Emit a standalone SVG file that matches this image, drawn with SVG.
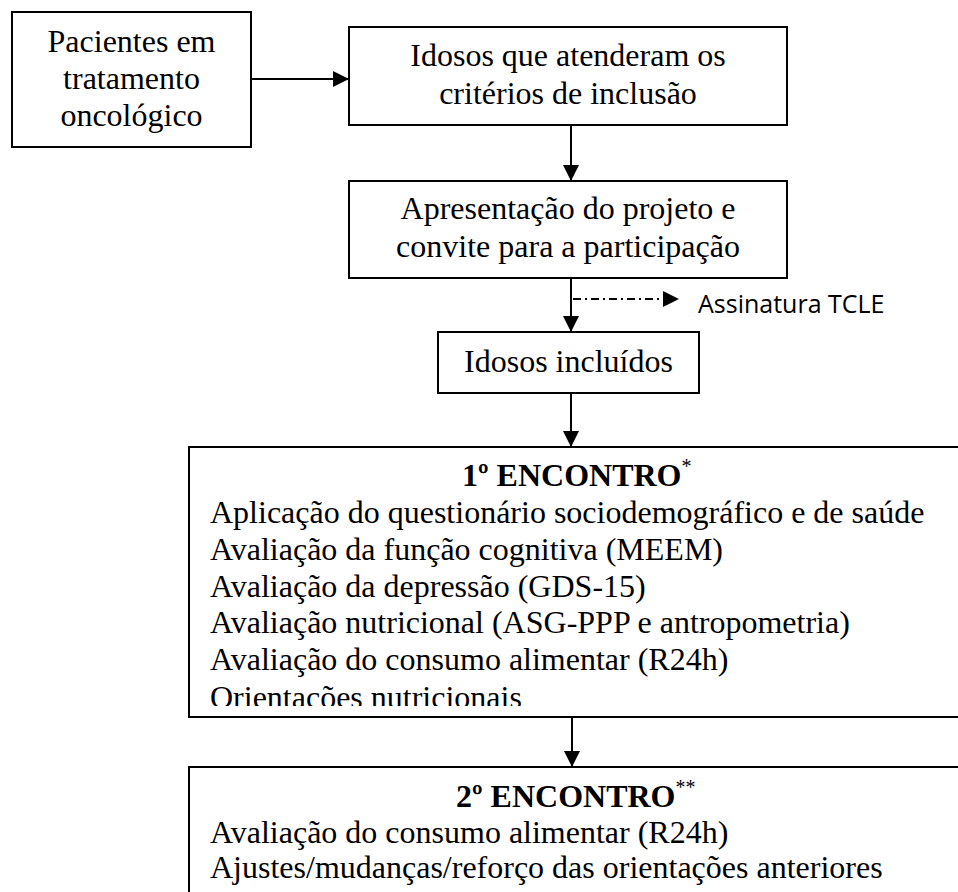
<svg xmlns="http://www.w3.org/2000/svg" width="958" height="892" viewBox="0 0 958 892">
<style>
.box{fill:#fff;stroke:#000;stroke-width:2}
.t{font-family:"Liberation Serif","Times New Roman",serif;font-size:32px;fill:#000}
.c{text-anchor:middle}
.b{font-weight:bold}
.sup{font-size:20px;font-weight:normal}
.s{font-family:"Open Sans","Liberation Sans",sans-serif;font-size:25px;fill:#000}
.ln{stroke:#000;stroke-width:2;fill:none}
</style>
<defs>
<marker id="ah" markerUnits="userSpaceOnUse" markerWidth="16" markerHeight="16" refX="16" refY="8" orient="auto">
<path d="M0,0 L16,8 L0,16 Z" fill="#000"/>
</marker>
<clipPath id="clip5"><rect x="190" y="448" width="770" height="258"/></clipPath>
</defs>
<g id="connectors">
<line class="ln" x1="252" y1="79" x2="349" y2="79" marker-end="url(#ah)"/>
<line class="ln" x1="571" y1="126" x2="571" y2="181" marker-end="url(#ah)"/>
<line class="ln" x1="571" y1="279" x2="571" y2="332" marker-end="url(#ah)"/>
<line class="ln" x1="573" y1="299" x2="679" y2="299" stroke-dasharray="8 4 2 4" marker-end="url(#ah)"/>
<line class="ln" x1="571" y1="393" x2="571" y2="447" marker-end="url(#ah)"/>
<line class="ln" x1="572" y1="718" x2="572" y2="767" marker-end="url(#ah)"/>
</g>
<g id="n1">
<rect class="box" x="12" y="12" width="239" height="135"/>
<text class="t c" x="131.5" y="52">Pacientes em</text>
<text class="t c" x="131.5" y="89">tratamento</text>
<text class="t c" x="131.5" y="126">oncológico</text>
</g>
<g id="n2">
<rect class="box" x="349" y="27" width="438" height="98"/>
<text class="t c" x="568" y="66">Idosos que atenderam os</text>
<text class="t c" x="568" y="104">critérios de inclusão</text>
</g>
<g id="n3">
<rect class="box" x="349" y="181" width="438" height="97"/>
<text class="t c" x="568" y="219">Apresentação do projeto e</text>
<text class="t c" x="568" y="257">convite para a participação</text>
</g>
<g id="n4">
<text class="s" x="698" y="313">Assinatura TCLE</text>
</g>
<g id="n5">
<rect class="box" x="438" y="332" width="261" height="61"/>
<text class="t c" x="568.5" y="372">Idosos incluídos</text>
</g>
<g id="n6">
<rect class="box" x="189" y="447" width="780" height="270"/>
<text class="t b" x="462" y="486">1º ENCONTRO<tspan class="sup" dy="-13">*</tspan></text>
<text class="t" x="210" y="523">Aplicação do questionário sociodemográfico e de saúde</text>
<text class="t" x="210" y="560">Avaliação da função cognitiva (MEEM)</text>
<text class="t" x="210" y="597">Avaliação da depressão (GDS-15)</text>
<text class="t" x="210" y="633">Avaliação nutricional (ASG-PPP e antropometria)</text>
<text class="t" x="210" y="670">Avaliação do consumo alimentar (R24h)</text>
<text class="t" x="210" y="708" clip-path="url(#clip5)">Orientações nutricionais</text>
</g>
<g id="n7">
<rect class="box" x="189" y="767" width="780" height="200"/>
<text class="t b" x="456" y="807">2º ENCONTRO<tspan class="sup" dy="-13">**</tspan></text>
<text class="t" x="210" y="843">Avaliação do consumo alimentar (R24h)</text>
<text class="t" x="210" y="878">Ajustes/mudanças/reforço das orientações anteriores</text>
</g>
</svg>
